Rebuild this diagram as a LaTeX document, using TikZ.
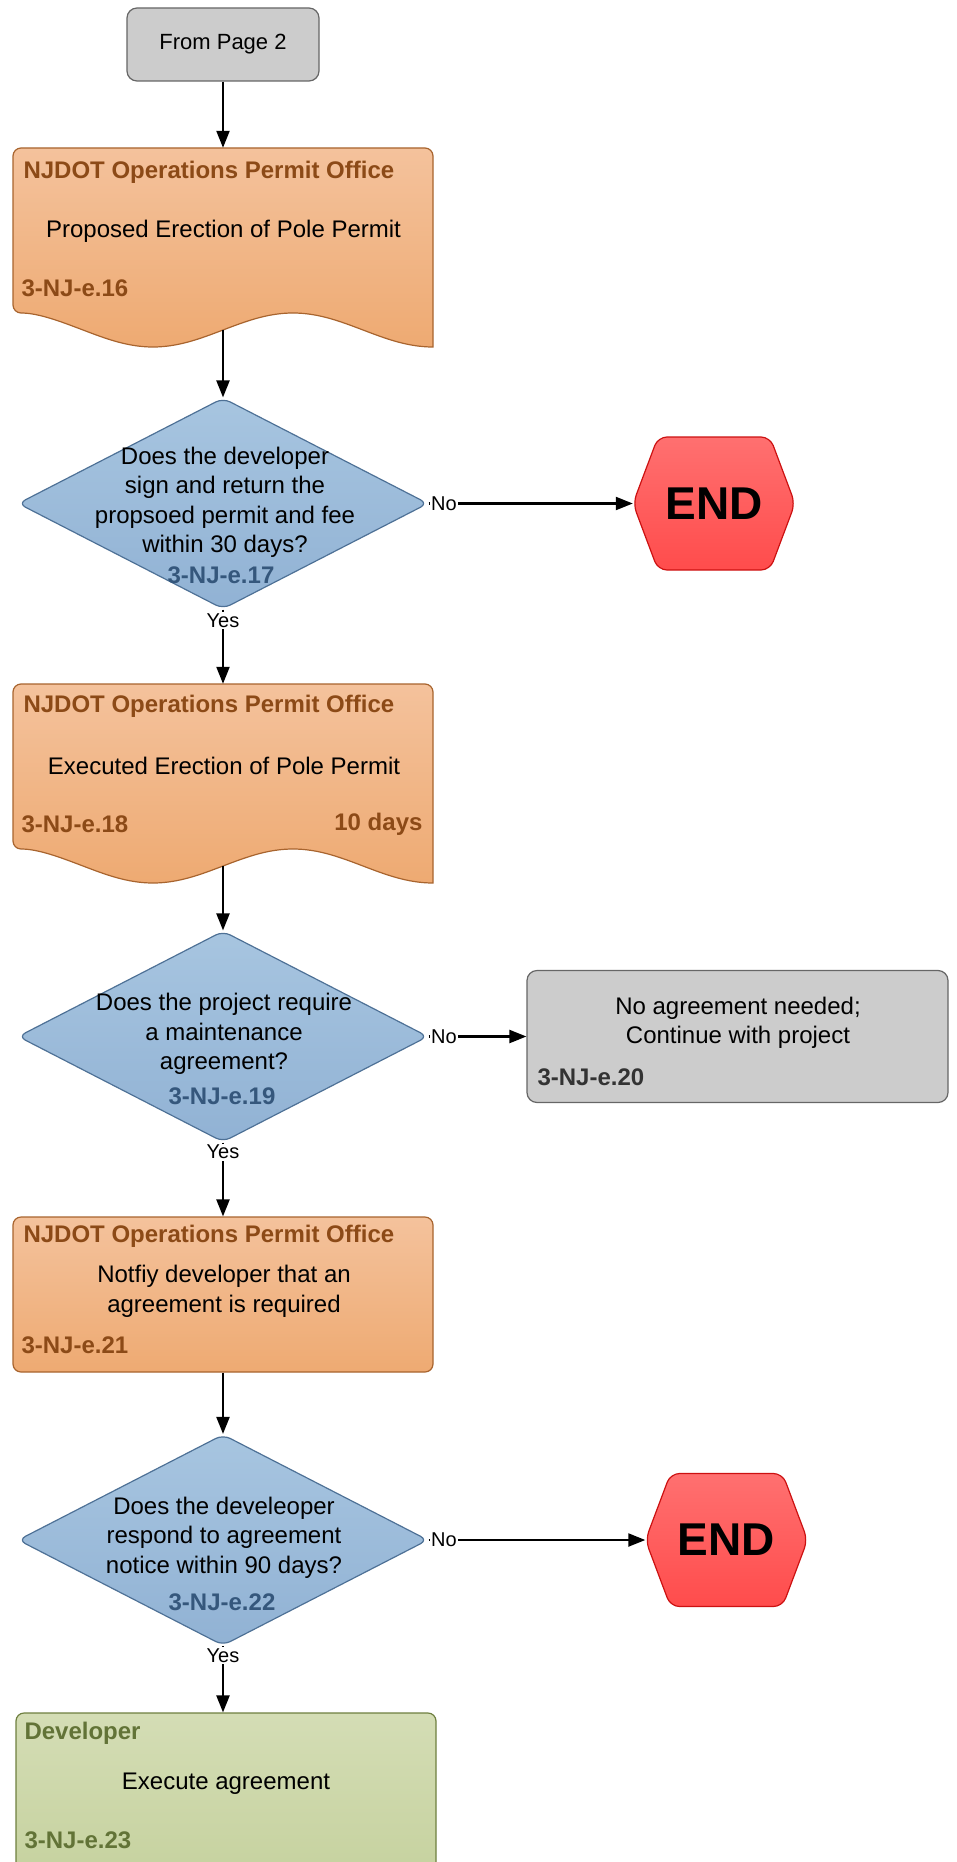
\documentclass[tikz,border=0pt]{standalone}
\usepackage{fontspec}
\setmainfont{Liberation Sans}
\usetikzlibrary{shapes,arrows.meta,positioning,calc}

\definecolor{grayfill}{HTML}{CCCCCC}
\definecolor{grayline}{HTML}{666666}
\definecolor{grayid}{HTML}{333333}
\definecolor{orangetop}{HTML}{F4C29C}
\definecolor{orangebot}{HTML}{EEAA72}
\definecolor{orangeline}{HTML}{A8642E}
\definecolor{orangetext}{HTML}{8C4A17}
\definecolor{bluetop}{HTML}{A7C5E0}
\definecolor{bluebot}{HTML}{91B2D4}
\definecolor{blueline}{HTML}{4E7196}
\definecolor{blueid}{HTML}{35577C}
\definecolor{redtop}{HTML}{FF7070}
\definecolor{redbot}{HTML}{FF4C4C}
\definecolor{redline}{HTML}{CC1111}
\definecolor{greentop}{HTML}{D4DDB5}
\definecolor{greenbot}{HTML}{C6D29F}
\definecolor{greenline}{HTML}{6E7F3F}
\definecolor{greentext}{HTML}{627337}

\tikzset{
  main font/.style={font=\fontsize{24}{29.5}\selectfont},
  flowline/.style={line width=2.2pt, -{Triangle[length=17pt,width=13pt]}},
  answer/.style={font=\fontsize{20}{24}\selectfont, fill=white, inner sep=1.5pt},
  startbox/.style={rectangle, rounded corners=10, draw=grayline, fill=grayfill, line width=1.2pt,
    minimum width=192, minimum height=73, font=\fontsize{22}{26}\selectfont},
  notebox/.style={rectangle, rounded corners=10, draw=grayline, fill=grayfill, line width=1.2pt,
    minimum width=421, minimum height=132},
  docshape/.style={draw=orangeline, line width=1.2pt, top color=orangetop, bottom color=orangebot},
  taskbox/.style={rectangle, rounded corners=8, draw=orangeline, line width=1.2pt,
    top color=orangetop, bottom color=orangebot, minimum width=420, minimum height=155},
  devbox/.style={rectangle, rounded corners=8, draw=greenline, line width=1.2pt,
    top color=greentop, bottom color=greenbot, minimum width=420, minimum height=162},
  area/.style={rectangle, inner sep=0, minimum width=420, minimum height=199},
  question/.style={diamond, rounded corners=8, draw=blueline, line width=1.2pt, inner sep=0,
    top color=bluetop, bottom color=bluebot, minimum width=410, minimum height=211},
  qtext/.style={main font, align=center},
  qid/.style={font=\fontsize{24}{29}\selectfont\bfseries, text=blueid},
  owner/.style={anchor=west, font=\fontsize{24}{29}\selectfont\bfseries, text=orangetext},
  stepid/.style={owner},
  stophex/.style={draw=redline, line width=1.2pt, rounded corners=9, top color=redtop, bottom color=redbot},
  stoptext/.style={font=\fontsize{46}{50}\selectfont\bfseries, minimum width=162, minimum height=133}
}

% wavy document outline, #1 = top edge
\newcommand{\docpath}[1]{%
  \draw[docshape] (13,{#1+165}) cos (83,{#1+182}) sin (153,{#1+199}) cos (223,{#1+182})
    sin (293,{#1+165}) cos (363,{#1+182}) sin (433,{#1+199})
    [rounded corners=8] -- (433,#1) -- (13,#1) -- cycle;}

% hexagon behind END, #1,#2 = centre
\newcommand{\hexpath}[2]{%
  \draw[stophex] ({#1-81},#2) -- ({#1-56},{#2-66.5}) -- ({#1+56},{#2-66.5}) -- ({#1+81},#2)
    -- ({#1+56},{#2+66.5}) -- ({#1-56},{#2+66.5}) -- cycle;}

\begin{document}
\begin{tikzpicture}[x=1pt, y=-1pt]
    \useasboundingbox (0,0) rectangle (956,1862);

    % Start
    \node[startbox] (start) at (223,44.5) {From Page 2};

    % Proposed permit
    \docpath{148}
    \node[area] (doc1) at (223,247.5) {};
    \coordinate (doc1out) at (223,330);
    \node[owner] (doc1owner) at (20,172) {NJDOT Operations Permit Office};
    \node[main font] (doc1body) at (223.5,231) {Proposed Erection of Pole Permit};
    \node[stepid] (doc1id) at (18,288) {3-NJ-e.16};

    % Decision 1
    \node[question] (q1) at (223,503.5) {};
    \node[qtext] (q1text) at (225,502.5) {Does the developer\\sign and return the\\propsoed permit and fee\\within 30 days?};
    \node[qid] (q1id) at (221,575) {3-NJ-e.17};
    \hexpath{714}{503.5}
    \node[stoptext] (stop1) at (714,503.5) {END};

    % Executed permit
    \docpath{684}
    \node[area] (doc2) at (223,783.5) {};
    \coordinate (doc2out) at (223,866);
    \node[owner] (doc2owner) at (20,706) {NJDOT Operations Permit Office};
    \node[main font] (doc2body) at (224,766) {Executed Erection of Pole Permit};
    \node[stepid] (doc2id) at (18,824) {3-NJ-e.18};
    \node[owner, anchor=east] (doc2time) at (426,824) {10 days};

    % Decision 2
    \node[question] (q2) at (223,1036.5) {};
    \node[qtext] (q2text) at (224,1034) {Does the project require\\a maintenance\\agreement?};
    \node[qid] (q2id) at (222,1096) {3-NJ-e.19};
    \node[notebox] (note) at (737.5,1036.5) {};
    \node[main font, align=center] (notetext) at (738,1023) {No agreement needed;\\Continue with project};
    \node[stepid, text=grayid] (noteid) at (534,1077) {3-NJ-e.20};

    % Notify developer
    \node[taskbox] (task) at (223,1294.5) {};
    \node[owner] (taskowner) at (20,1236) {NJDOT Operations Permit Office};
    \node[main font, align=center] (taskbody) at (224,1291.5) {Notfiy developer that an\\agreement is required};
    \node[stepid] (taskid) at (18,1345) {3-NJ-e.21};

    % Decision 3
    \node[question] (q3) at (223,1540) {};
    \node[qtext] (q3text) at (224,1537.5) {Does the develeoper\\respond to agreement\\notice within 90 days?};
    \node[qid] (q3id) at (222,1602) {3-NJ-e.22};
    \hexpath{726.5}{1540}
    \node[stoptext] (stop2) at (726.5,1540) {END};

    % Developer
    \node[devbox] (dev) at (226,1794) {};
    \node[owner, text=greentext] (devowner) at (21,1733) {Developer};
    \node[main font] (devbody) at (226,1784) {Execute agreement};
    \node[stepid, text=greentext] (devid) at (21,1840) {3-NJ-e.23};

    % Connectors
    \draw[flowline] (start) -- (doc1.north);
    \draw[flowline] (doc1out) -- (q1.north);
    \draw[flowline] (q1.east) -- node[answer, pos=0, right] {No} (stop1.west);
    \draw[flowline] (q1.south) -- node[answer, pos=0.15] {Yes} (doc2.north);
    \draw[flowline] (doc2out) -- (q2.north);
    \draw[flowline] (q2.east) -- node[answer, pos=0, right] {No} (note.west);
    \draw[flowline] (q2.south) -- node[answer, pos=0.13] {Yes} (task.north);
    \draw[flowline] (task.south) -- (q3.north);
    \draw[flowline] (q3.east) -- node[answer, pos=0, right] {No} (stop2.west);
    \draw[flowline] (q3.south) -- node[answer, pos=0.14] {Yes} (q3.south |- dev.north);

\end{tikzpicture}
\end{document}
